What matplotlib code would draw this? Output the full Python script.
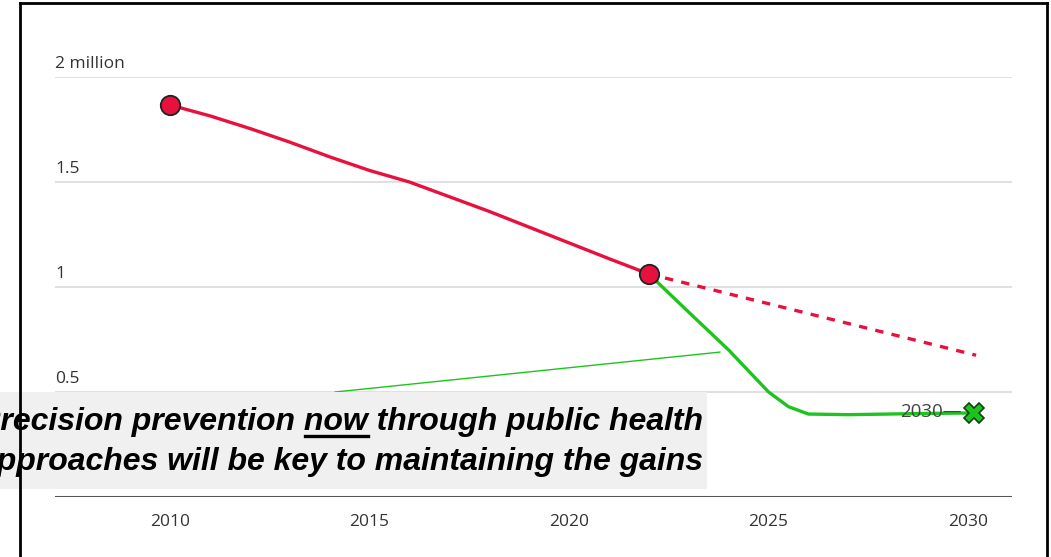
import matplotlib
matplotlib.use("Agg")
import matplotlib.pyplot as plt
from matplotlib.lines import Line2D
from matplotlib.patches import Rectangle

# values in millions
hist_years = [2010, 2011, 2012, 2013, 2014, 2015, 2016, 2017, 2018, 2019, 2020, 2021, 2022]
hist_vals = [1.867, 1.815, 1.755, 1.69, 1.62, 1.555, 1.50, 1.43, 1.36, 1.285, 1.21, 1.135, 1.062]

trend_years = [2022, 2030.2]
trend_vals = [1.062, 0.675]

prev_years = [2022, 2023, 2023.5, 2024, 2024.5, 2025, 2025.5, 2026, 2027, 2028, 2029, 2030]
prev_vals = [1.062, 0.88, 0.79, 0.70, 0.60, 0.50, 0.43, 0.395, 0.392, 0.395, 0.398, 0.40]

y_ticks = [0, 0.5, 1, 1.5, 2]
y_labels = ["0", "0.5", "1", "1.5", "2 million"]
x_ticks = [2010, 2015, 2020, 2025, 2030]

RED = "#e8103c"
GREEN = "#1ec41e"
W, H = 1051, 557

fig = plt.figure(figsize=(W / 100, H / 100), dpi=100)
fig.patch.set_facecolor("white")

# axes placed so gridlines span px 55..1012, y=0 at px 497, y=2 at px 77
ax = fig.add_axes([55 / W, (H - 497) / H, (1012 - 55) / W, (497 - 77) / H])
ax.set_xlim(2007.12, 2031.1)
ax.set_ylim(0, 2)
for s in ax.spines.values():
    s.set_visible(False)
ax.set_yticks([])
ax.set_xticks(x_ticks)
ax.set_xticklabels([str(x) for x in x_ticks], fontsize=12.5, color="#333333", family="Open Sans")
ax.tick_params(axis="x", length=0, pad=12)

for v, lab in zip(y_ticks, y_labels):
    if v == 0:
        ax.axhline(v, color="#555555", lw=2.2, zorder=1)
    else:
        ax.axhline(v, color="#dddddd", lw=1.3, zorder=1)
    ax.text(0, v + 0.025, lab, transform=ax.get_yaxis_transform(), ha="left", va="bottom",
            fontsize=12.5, color="#333333", family="Open Sans")

# thin annotation pointer
ax.plot([2014.14, 2023.78], [0.5, 0.69], color=GREEN, lw=1, zorder=2, clip_on=False)

ax.plot(hist_years, hist_vals, color=RED, lw=2.4, zorder=3, solid_capstyle="round")
ax.plot(trend_years, trend_vals, color=RED, lw=2.4, ls=(0, (2.5, 2.5)), zorder=3)
ax.plot(prev_years, prev_vals, color=GREEN, lw=2.4, zorder=3, solid_joinstyle="round")

ax.plot([hist_years[0], hist_years[-1]], [hist_vals[0], hist_vals[-1]], "o", ms=14,
        mfc=RED, mec="#222222", mew=1.3, zorder=5, clip_on=False)
ax.plot([prev_years[-1] + 0.15], [prev_vals[-1]], "X", ms=14, mfc=GREEN, mec="#114411",
        mew=1.2, zorder=5, clip_on=False)
ax.text(2029.85, prev_vals[-1] + 0.005, "2030—", ha="right", va="center", fontsize=13.5,
        color="#444444", family="Open Sans", zorder=4)

# grey callout box
fig.patches.append(Rectangle((0, 1 - 489 / H), 707 / W, 97 / H, transform=fig.transFigure,
                             facecolor="#f0f0f0", edgecolor="none", zorder=6))
line1 = "Precision prevention now through public health"
line2 = "approaches will be key to maintaining the gains"
tkw = dict(fontsize=23, fontweight="bold", fontstyle="italic", family="Liberation Sans",
           color="black", ha="right", va="baseline", zorder=7, fontstretch="condensed")
xr = 703 / W
fig.text(xr, 1 - 430 / H, line1, **tkw)
fig.text(xr, 1 - 470 / H, line2, **tkw)

# underline "now"
r = fig.canvas.get_renderer()
t_a = fig.text(0, 0, "now through public health", **tkw)
t_b = fig.text(0, 0, " through public health", **tkw)
wa = t_a.get_window_extent(r).width
wb = t_b.get_window_extent(r).width
t_a.remove()
t_b.remove()
x0 = 703 - wa + 1
x1 = 703 - wb
fig.add_artist(Line2D([x0 / W, x1 / W], [1 - 436 / H, 1 - 436 / H], transform=fig.transFigure,
                      color="black", lw=2.4, zorder=8))

# screenshot frame
for xs, ys in [([20, 20], [3, H]), ([20, 1047], [3, 3]), ([1047, 1047], [3, H])]:
    fig.add_artist(Line2D([x / W for x in xs], [1 - y / H for y in ys], transform=fig.transFigure,
                          color="black", lw=2, zorder=10))

fig.savefig("out.png", dpi=100)
